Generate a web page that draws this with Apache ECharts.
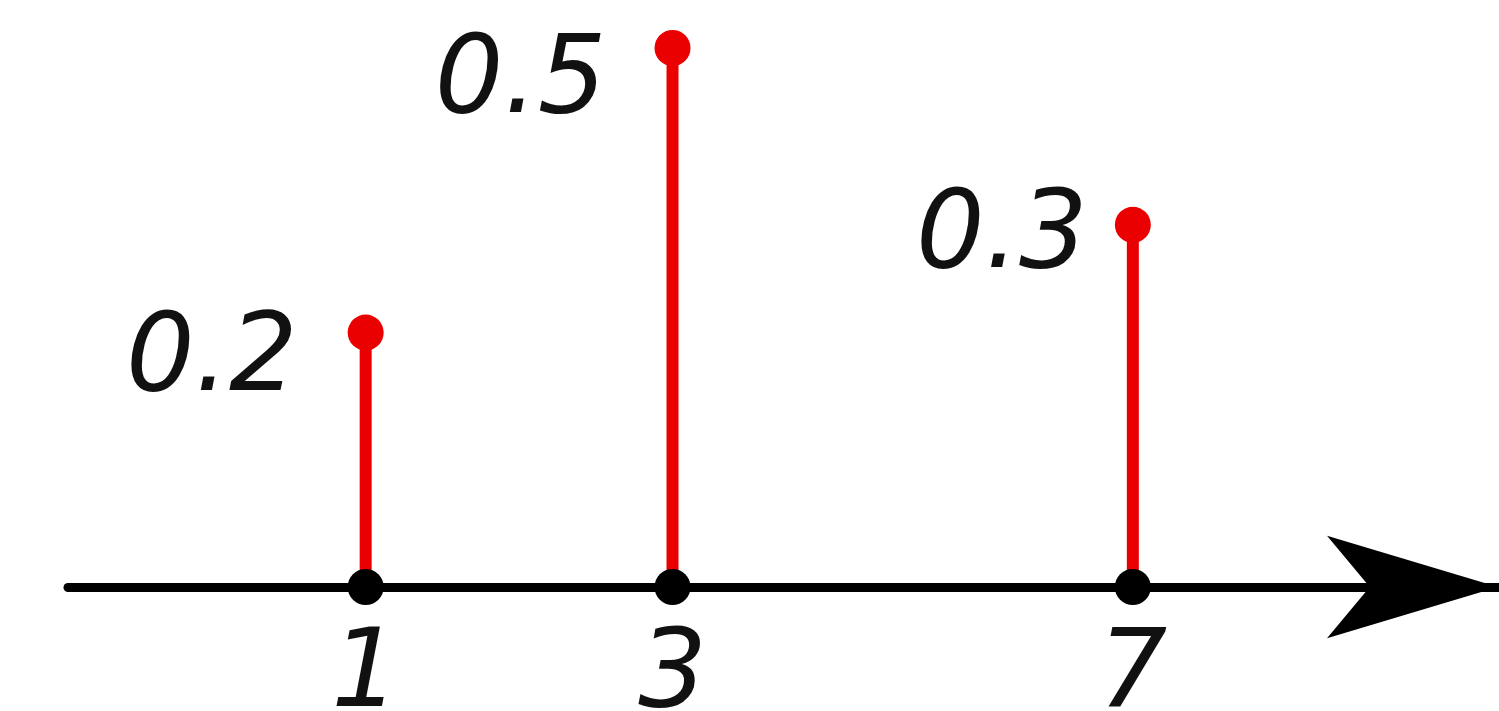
<!DOCTYPE html>
<html>
<head>
<meta charset="utf-8">
<script src="https://cdn.jsdelivr.net/npm/echarts@6/dist/echarts.min.js"></script>
<style>
  html, body { margin: 0; padding: 0; background: #fff; }
  #stem-chart { width: 1499px; height: 711px; }
</style>
</head>
<body>
<div id="stem-chart"></div>
<script>
// outcomes of the random variable, and where each sits along the drawn axis
const outcomes = ['1', '3', '7']
const stemPos = [1, 2, 3.5]
// probabilities as printed, and stem heights as drawn
const probLabels = ['0.2', '0.5', '0.3']
const stemHeight = [0.236, 0.5, 0.336]

// label nudges (layout only)
const labelOffsets = [[-50, 29], [-48, 36], [-27, 14]]

const textStyle = {
  fontFamily: 'DejaVu Sans',
  fontStyle: 'italic',
  fontSize: 108,
  color: '#111'
}

const chart = echarts.init(document.getElementById('stem-chart'))
chart.setOption({
  animation: false,
  grid: { left: 68, right: 1, top: 48, bottom: 124, outerBoundsMode: 'none', containLabel: false },
  xAxis: {
    type: 'value',
    min: 0.03,
    max: 4.69,
    splitLine: { show: false },
    axisTick: { show: false },
    axisLine: {
      show: true,
      symbol: ['none', 'arrow'],
      symbolSize: [77, 171],
      lineStyle: { color: '#000', width: 9 }
    },
    axisLabel: {
      customValues: stemPos,
      margin: 37,
      formatter: v => outcomes[stemPos.indexOf(v)],
      ...textStyle
    }
  },
  yAxis: {
    type: 'value',
    min: 0,
    max: 0.5,
    show: false
  },
  series: [
    {
      // stems
      type: 'custom',
      z: 2,
      data: stemPos.map((x, i) => [x, stemHeight[i]]),
      renderItem: (params, api) => {
        const p0 = api.coord([api.value(0), 0])
        const p1 = api.coord([api.value(0), api.value(1)])
        return {
          type: 'line',
          shape: { x1: p0[0], y1: p0[1], x2: p1[0], y2: p1[1] },
          style: { stroke: '#ea0000', lineWidth: 12 }
        }
      }
    },
    {
      // probability dots with their labels
      type: 'scatter',
      z: 3,
      symbolSize: 36,
      itemStyle: { color: '#ea0000', opacity: 1 },
      data: stemPos.map((x, i) => ({
        value: [x, stemHeight[i]],
        label: {
          show: true,
          position: 'left',
          distance: 0,
          offset: labelOffsets[i],
          formatter: probLabels[i],
          ...textStyle
        }
      }))
    },
    {
      // outcome dots on the axis
      type: 'scatter',
      z: 4,
      symbolSize: 36,
      itemStyle: { color: '#000', opacity: 1 },
      data: stemPos.map(x => [x, 0])
    }
  ]
})
</script>
</body>
</html>
